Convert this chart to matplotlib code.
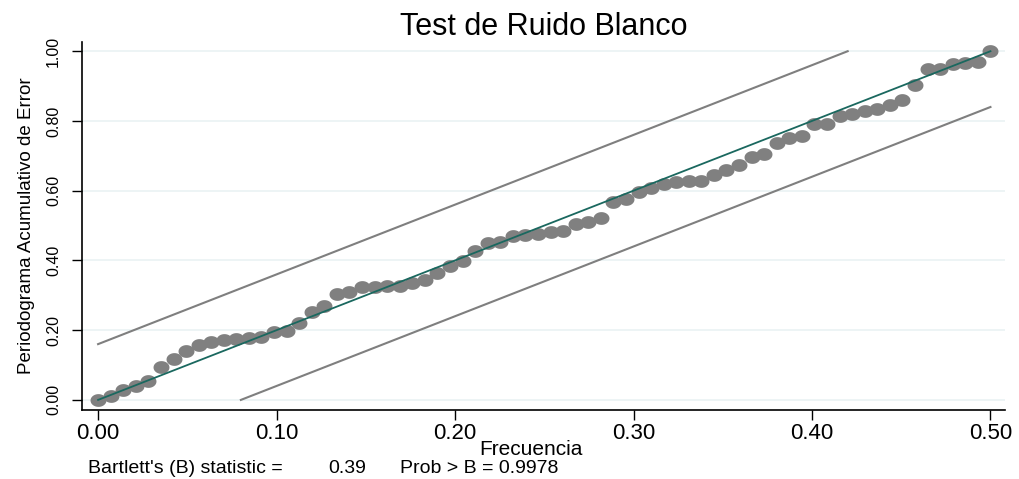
import numpy as np
import matplotlib
matplotlib.use("Agg")
import matplotlib.pyplot as plt
from matplotlib.path import Path

plt.rcParams['font.family'] = ['Liberation Sans', 'DejaVu Sans']

# frequencies (k/142, k = 0..71)
freq = [0.0000, 0.0070, 0.0141, 0.0211, 0.0282, 0.0352, 0.0423, 0.0493,
        0.0563, 0.0634, 0.0704, 0.0775, 0.0845, 0.0915, 0.0986, 0.1056,
        0.1127, 0.1197, 0.1268, 0.1338, 0.1408, 0.1479, 0.1549, 0.1620,
        0.1690, 0.1761, 0.1831, 0.1901, 0.1972, 0.2042, 0.2113, 0.2183,
        0.2254, 0.2324, 0.2394, 0.2465, 0.2535, 0.2606, 0.2676, 0.2746,
        0.2817, 0.2887, 0.2958, 0.3028, 0.3099, 0.3169, 0.3239, 0.3310,
        0.3380, 0.3451, 0.3521, 0.3592, 0.3662, 0.3732, 0.3803, 0.3873,
        0.3944, 0.4014, 0.4085, 0.4155, 0.4225, 0.4296, 0.4366, 0.4437,
        0.4507, 0.4577, 0.4648, 0.4718, 0.4789, 0.4859, 0.4930, 0.5000]

# cumulative periodogram values
cumper = [0.000, 0.011, 0.027, 0.040, 0.055, 0.093, 0.117, 0.141,
          0.157, 0.165, 0.172, 0.175, 0.177, 0.180, 0.194, 0.199,
          0.222, 0.253, 0.270, 0.303, 0.309, 0.323, 0.325, 0.327,
          0.327, 0.334, 0.344, 0.363, 0.384, 0.399, 0.427, 0.449,
          0.454, 0.470, 0.473, 0.477, 0.482, 0.484, 0.504, 0.509,
          0.521, 0.568, 0.576, 0.597, 0.609, 0.619, 0.626, 0.628,
          0.628, 0.645, 0.659, 0.673, 0.697, 0.705, 0.737, 0.750,
          0.757, 0.791, 0.791, 0.815, 0.819, 0.829, 0.833, 0.845,
          0.860, 0.903, 0.948, 0.950, 0.962, 0.966, 0.968, 1.000]

# confidence bands
upper_x = [0.0, 0.42]
upper_y = [0.16, 1.0]
lower_x = [0.08, 0.5]
lower_y = [0.0, 0.84]
diag_x = [0.0, 0.5]
diag_y = [0.0, 1.0]

xticks = [0.0, 0.1, 0.2, 0.3, 0.4, 0.5]
yticks = [0.0, 0.2, 0.4, 0.6, 0.8, 1.0]

fig = plt.figure(figsize=(10.19, 4.79), dpi=100)
ax = fig.add_axes([0.0805, 0.144, 0.9055, 0.768])

# slightly wide ellipse marker
t = np.linspace(0, 2 * np.pi, 40)
ell = Path(np.column_stack([np.cos(t), 0.8 * np.sin(t)]), closed=True)

for yv in yticks:
    ax.axhline(yv, color='#eaf2f3', lw=1.2, zorder=0)

ax.plot(upper_x, upper_y, color='#7f7f7f', lw=1.5, zorder=2)
ax.plot(lower_x, lower_y, color='#7f7f7f', lw=1.5, zorder=2)
ax.plot(freq, cumper, linestyle='none', marker=ell, markersize=11.5,
        color='#808080', markeredgewidth=0, zorder=3)
ax.plot(diag_x, diag_y, color='#1a685f', lw=1.3, zorder=4)

ax.set_xlim(-0.009, 0.508)
ax.set_ylim(-0.029, 1.026)
ax.set_xticks(xticks)
ax.set_xticklabels([f"{v:.2f}" for v in xticks], fontsize=16)
ax.set_yticks(yticks)
ax.set_yticklabels([f"{v:.2f}" for v in yticks], fontsize=11.5,
                   rotation=90, va='center')
ax.tick_params(direction='out', length=7, width=1, color='black')
ax.tick_params(axis='x', pad=2)
ax.tick_params(axis='y', pad=8)
for s in ['top', 'right']:
    ax.spines[s].set_visible(False)
ax.spines['left'].set_linewidth(1.2)
ax.spines['bottom'].set_linewidth(1.2)

ax.set_xlabel('Frecuencia', fontsize=15)
ax.xaxis.set_label_coords(0.487, -0.082)
ax.set_ylabel('Periodograma Acumulativo de Error', fontsize=13.5, labelpad=8)
ax.set_title('Test de Ruido Blanco', fontsize=22, pad=5)

# Bartlett test note
fig.text(88 / 1019, 0.012, "Bartlett's (B) statistic =", fontsize=14)
fig.text(328 / 1019, 0.012, "0.39", fontsize=14)
fig.text(400 / 1019, 0.012, "Prob > B = 0.9978", fontsize=14)

fig.savefig('out.png', dpi=100)
